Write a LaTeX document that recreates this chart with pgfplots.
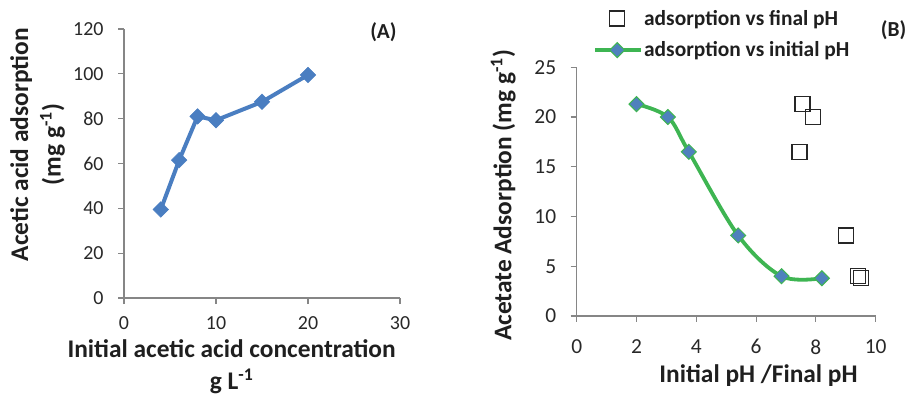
\documentclass[border=0pt]{standalone}
\usepackage{fontspec}
\setmainfont{Carlito}
\usepackage{pgfplots}
\pgfplotsset{compat=1.18}
\definecolor{axgray}{RGB}{134,134,134}
\definecolor{txt}{RGB}{40,40,40}
\definecolor{lblue}{RGB}{74,126,193}
\definecolor{lgreen}{RGB}{62,181,82}
\definecolor{dblue}{RGB}{79,129,189}
\pgfplotsset{
  base/.style={
    scale only axis, anchor=south west, clip=false,
    axis x line*=bottom, axis y line*=left,
    axis line style={draw=axgray, line width=1.1bp, -},
    tick align=outside, major tick length=6bp,
    every tick/.style={draw=axgray, line width=1.1bp},
    /pgf/number format/assume math mode=true,
    ticklabel style={text=txt},
    label style={font=\bfseries\fontsize{25.5}{32.5}\selectfont, text=black!88, inner sep=0pt, align=center, anchor=center},
  }
}
\begin{document}
\begin{tikzpicture}
\path[use as bounding box] (0bp,0bp) rectangle (911bp,398bp);
% Panel A
\begin{axis}[base, at={(124bp,100bp)}, width=276bp, height=269bp,
  xmin=0, xmax=30, ymin=0, ymax=120,
  xtick={0,10,20,30}, ytick={0,20,...,120},
  ticklabel style={font=\fontsize{20}{20}\selectfont},
  xticklabel style={yshift=-9bp},
  yticklabel style={xshift=-11bp},
  xlabel={Initial acetic acid concentration\\g L\textsuperscript{-1}},
  xlabel style={at={(axis description cs:0.39,-0.255)}},
  ylabel={Acetic acid adsorption\\(mg g\textsuperscript{-1})},
  ylabel style={at={(axis description cs:-0.313,0.57)}},
]
\addplot[color=lblue, line width=4bp, mark=square*, mark size=5.5bp,
  mark options={rotate=45, fill=lblue, draw=lblue, line width=0.5bp}]
  coordinates {(4,39.5) (6,61.5) (8,81) (10,79.3) (15,87.5) (20,99.5)};
\node[font=\bfseries\fontsize{21.5}{24}\selectfont, text=black!88] at (axis description cs:0.94,0.99) {(A)};
\end{axis}
% Panel B
\begin{axis}[base, at={(576.7bp,82bp)}, width=299bp, height=248.7bp,
  xmin=0, xmax=10, ymin=0, ymax=25,
  xtick={0,2,...,10}, ytick={0,5,...,25},
  ticklabel style={font=\fontsize{21.5}{22}\selectfont},
  xticklabel style={yshift=-14bp},
  yticklabel style={xshift=-11bp},
  xlabel={Initial pH /Final pH},
  xlabel style={at={(axis description cs:0.608,-0.24)}},
  ylabel={Acetate Adsorption (mg g\textsuperscript{-1})},
  ylabel style={at={(axis description cs:-0.246,0.485)}},
  legend style={draw=none, fill=none, at={(axis description cs:0.055,1.238)}, anchor=north west,
    font=\bfseries\fontsize{21.5}{24}\selectfont, text=black!88,
    inner sep=0pt, row sep=11bp, legend cell align=left,
    /tikz/every even column/.append style={column sep=0pt}},
  legend image code/.code={\draw[mark repeat=2,mark phase=2,#1] plot coordinates {(0bp,0bp) (22bp,0bp) (45bp,0bp)};},
]
\addplot[only marks, mark=square, mark size=7.5bp, mark options={draw=black!85, line width=1.4bp, fill=white}]
  coordinates {(7.55,21.3) (7.9,20.0) (7.45,16.5) (9.0,8.1) (9.4,4.0) (9.5,3.8)};
\addlegendentry{adsorption vs final pH}
\addplot[color=lgreen, line width=3.8bp, smooth, tension=0.55, mark=square*, mark size=5.3bp,
  mark options={rotate=45, fill=dblue, draw=lgreen, line width=1bp}]
  coordinates {(2.0,21.3) (3.05,20.0) (3.75,16.5) (5.4,8.1) (6.85,4.0) (8.2,3.8)};
\addlegendentry{adsorption vs initial pH}
\node[font=\bfseries\fontsize{21.5}{24}\selectfont, text=black!88] at (axis description cs:1.06,1.15) {(B)};
\end{axis}
\end{tikzpicture}
\end{document}
